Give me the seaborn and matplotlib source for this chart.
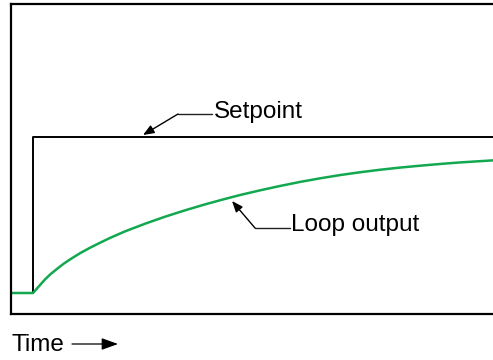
import matplotlib
matplotlib.use("Agg")
import matplotlib.pyplot as plt
import seaborn as sns
import pandas as pd

# ---- data (time in arbitrary units, response as fraction of setpoint) ----
setpoint_time = [11, 33, 33, 505]
setpoint_value = [0.0, 0.0, 1.0, 1.0]

output_time = [11, 33, 36.7, 40, 45, 50, 56.7, 63.3, 70, 80, 90, 100, 110,
               125, 145, 165, 185, 205, 225, 240, 260, 280, 300, 320, 340,
               360, 380, 400, 420, 440, 460, 480, 500]
output_value = [0.0, 0.0, 0.027, 0.051, 0.087, 0.118, 0.153, 0.186, 0.215,
                0.255, 0.290, 0.322, 0.353, 0.395, 0.444, 0.489, 0.530,
                0.568, 0.603, 0.628, 0.658, 0.686, 0.712, 0.735, 0.756,
                0.774, 0.790, 0.804, 0.816, 0.827, 0.837, 0.845, 0.853]

labels = ["Setpoint", "Loop output"]
xlabel = "Time"

sns.set_theme(style="white")
plt.rcParams["font.family"] = ["Liberation Sans", "DejaVu Sans"]

W, H = 493, 360
fig = plt.figure(figsize=(W / 100, H / 100), dpi=100)
ax_left, ax_top, ax_bottom, ax_right = 11, 4, 314, 505
ax = fig.add_axes([ax_left / W, (H - ax_bottom) / H,
                   (ax_right - ax_left) / W, (ax_bottom - ax_top) / H])

base_px, sp_px = 293, 137
scale = base_px - sp_px


def to_val(py):
    return (base_px - py) / scale


df_sp = pd.DataFrame({"t": setpoint_time, "v": setpoint_value})
df_out = pd.DataFrame({"t": output_time, "v": output_value})

sns.lineplot(data=df_sp, x="t", y="v", ax=ax, color="black", lw=1.4,
             estimator=None, sort=False)
sns.lineplot(data=df_out, x="t", y="v", ax=ax, color="#11a84f", lw=1.8,
             estimator=None, sort=False, solid_joinstyle="round")

ax.set_xlim(ax_left, ax_right)
ax.set_ylim(to_val(ax_bottom), to_val(ax_top))
ax.set_xticks([])
ax.set_yticks([])
ax.set_xlabel("")
ax.set_ylabel("")
for s in ax.spines.values():
    s.set_color("black")
    s.set_linewidth(1.6)

fs = 17.5
lead = dict(color="#222222", lw=1.0)
arrow = dict(arrowstyle="-|>,head_length=0.55,head_width=0.22",
             color="black", lw=1.0, shrinkA=0, shrinkB=0)

# Setpoint label
ax.plot([178, 212], [to_val(114), to_val(114)], **lead)
ax.annotate("", xy=(143, to_val(135)), xytext=(178, to_val(114)),
            arrowprops=arrow)
ax.text(214, to_val(118), labels[0], fontsize=fs, ha="left",
        va="baseline", color="black")

# Loop output label
ax.plot([255, 290], [to_val(228), to_val(228)], **lead)
ax.annotate("", xy=(232, to_val(201)), xytext=(255, to_val(228)),
            arrowprops=arrow)
ax.text(291, to_val(231), labels[1], fontsize=fs, ha="left",
        va="baseline", color="black")

# Time label with arrow
fig.text(12 / W, 1 - 351 / H, xlabel, fontsize=fs, ha="left",
         va="baseline", color="black")
fig.add_artist(matplotlib.patches.FancyArrowPatch(
    (72 / W, 1 - 344 / H), (118 / W, 1 - 344 / H),
    transform=fig.transFigure,
    arrowstyle="-|>,head_length=0.5,head_width=0.18",
    mutation_scale=20, color="black", lw=0.9, shrinkA=0, shrinkB=0))

fig.savefig("out.png", dpi=100)
